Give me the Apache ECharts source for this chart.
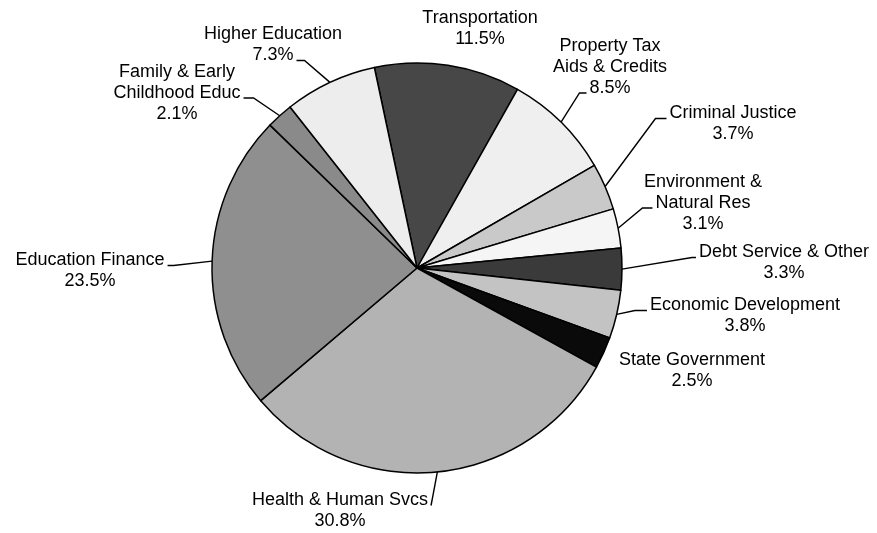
<!DOCTYPE html>
<html>
<head>
<meta charset="utf-8">
<script src="https://cdn.jsdelivr.net/npm/echarts@6/dist/echarts.min.js"></script>
<style>
html,body{margin:0;padding:0;background:#fff;}
#chart{width:877px;height:533px;}
</style>
</head>
<body>
<div id="chart"></div>
<script>
// ---- data ----
const categories = [
  'Transportation',
  'Property Tax\nAids & Credits',
  'Criminal Justice',
  'Environment &\nNatural Res',
  'Debt Service & Other',
  'Economic Development',
  'State Government',
  'Health & Human Svcs',
  'Education Finance',
  'Family & Early\nChildhood Educ',
  'Higher Education'
];
const values = [11.5, 8.5, 3.7, 3.1, 3.3, 3.8, 2.5, 30.8, 23.5, 2.1, 7.3];

// ---- styles ----
const sliceColors = ['#474747', '#efefef', '#c9c9c9', '#f5f5f5', '#3a3a3a', '#c3c3c3',
                     '#0a0a0a', '#b3b3b3', '#8f8f8f', '#8a8a8a', '#ededed'];
// label block centres (px) in the 877x533 frame
const labelPos = [[480, 29], [610, 67], [733, 124], [703, 203], [784, 263], [745, 316],
                  [692, 371], [340, 511], [90, 271], [177, 93], [273, 45]];
// leader attachment: side of the text ('l'/'r'/null) and which text line
const leaderSide = [null, 'l', 'l', 'l', 'l', 'l', null, 'r', 'r', 'r', 'r'];
const leaderLine = [0, 2, 0, 1, 0, 0, 0, 0, 0, 1, 1];
const leaderLen2 = [0, 7, 11, 10, 4, 12, 0, 0, 6, 10, 8];

const FONT_SIZE = 18, LINE_H = 21, FONT_FAMILY = 'Liberation Sans, Arial, sans-serif';
const measureCtx = document.createElement('canvas').getContext('2d');
measureCtx.font = FONT_SIZE + 'px ' + FONT_FAMILY;
const labelText = (name, v) => name + '\n' + v.toFixed(1) + '%';

const chart = echarts.init(document.getElementById('chart'), null, {renderer: 'canvas'});
const data = categories.map((c, i) => ({
  name: c,
  value: values[i],
  itemStyle: {color: sliceColors[i]},
  labelLine: {show: leaderSide[i] !== null}
}));

chart.setOption({
  backgroundColor: '#ffffff',
  animation: false,
  series: [{
    type: 'pie',
    center: [417, 268],
    radius: 205,
    startAngle: 102,
    clockwise: true,
    avoidLabelOverlap: false,
    minShowLabelAngle: 0,
    data: data,
    itemStyle: {borderColor: '#000', borderWidth: 1.5},
    label: {
      show: true,
      position: 'outside',
      formatter: p => labelText(p.name, p.value),
      fontFamily: FONT_FAMILY,
      fontSize: FONT_SIZE,
      lineHeight: LINE_H,
      color: '#000',
      align: 'center'
    },
    labelLine: {
      show: true,
      length: 10,
      length2: 9,
      lineStyle: {color: '#000', width: 1.4}
    },
    labelLayout: function (params) {
      const i = params.dataIndex;
      const p = labelPos[i];
      const out = {x: p[0], y: p[1], align: 'center', verticalAlign: 'middle'};
      const side = leaderSide[i];
      if (side) {
        const lay = chart.getModel().getSeriesByIndex(0).getData().getItemLayout(i);
        const mid = (lay.startAngle + lay.endAngle) / 2;
        const arc = [lay.cx + lay.r * Math.cos(mid), lay.cy + lay.r * Math.sin(mid)];
        const lines = labelText(categories[i], values[i]).split('\n');
        const h = lines.length * LINE_H;
        const ly = p[1] - h / 2 + LINE_H * (leaderLine[i] + 0.5) + 5;
        const w = measureCtx.measureText(lines[leaderLine[i]]).width;
        const ax = side === 'r' ? p[0] + w / 2 + 3 : p[0] - w / 2 - 3;
        const bx = side === 'r' ? ax + leaderLen2[i] : ax - leaderLen2[i];
        out.labelLinePoints = [arc, [bx, ly], [ax, ly]];
      }
      return out;
    },
    emphasis: {disabled: true}
  }]
});
</script>
</body>
</html>
